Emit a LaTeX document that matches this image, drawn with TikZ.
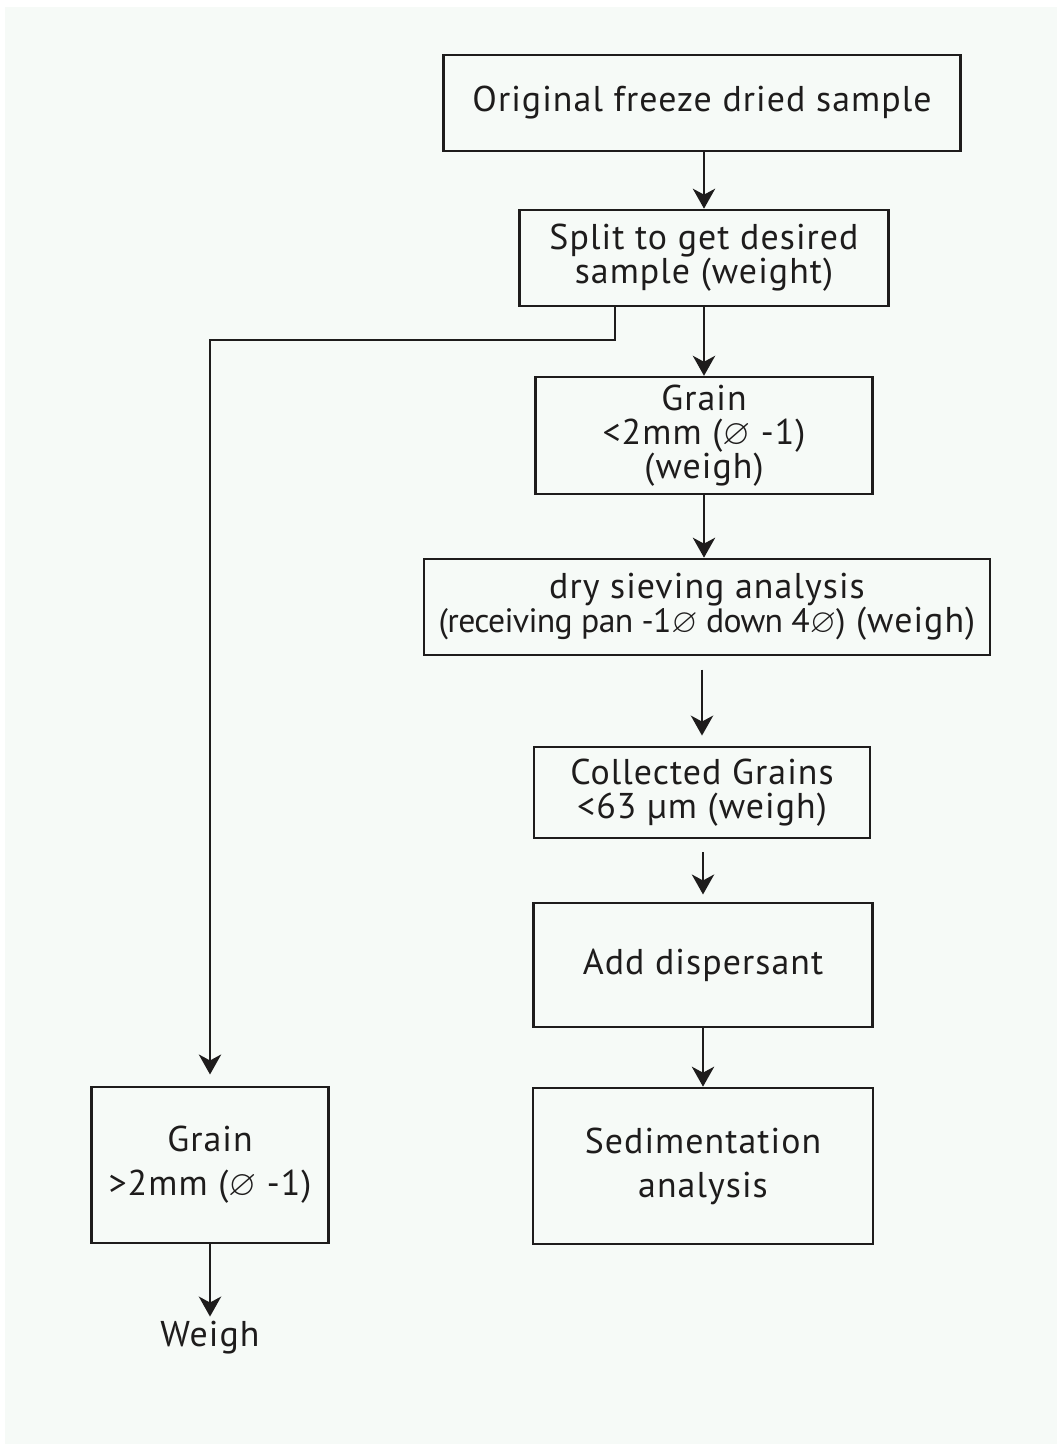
\documentclass[tikz,border=0pt]{standalone}
\usepackage{amssymb}
\usepackage{fontspec}
\setmainfont{PT Sans}[LetterSpace=3]
\usetikzlibrary{arrows.meta, positioning}
\definecolor{paper}{RGB}{246,250,247}
\definecolor{ink}{RGB}{30,28,28}

\tikzset{
  stepbox/.style={draw=ink, line width=1.9pt, align=center, inner sep=0pt,
    text=ink, font=\fontsize{25.5}{24.2}\selectfont},
  tallbox/.style={stepbox, font=\fontsize{25.5}{31.3}\selectfont},
  flow/.style={draw=ink, line width=1.5pt,
    -{Stealth[length=0.5cm, width=0.56cm, inset=0.15cm]}},
}
\newcommand{\diam}{$\varnothing$}

\begin{document}
\begin{tikzpicture}
  % page
  \useasboundingbox (0,0) rectangle (26.425,-36.1);
  \fill[paper] (0.125,-0.175) rectangle (26.425,-36.1);

  % main column
  \node[stepbox, minimum width=12.925cm, minimum height=2.4cm] (orig) at (17.55,-2.575)
    {Original freeze dried sample};
  \node[stepbox, minimum width=9.225cm, minimum height=2.4cm] (split) at (17.6,-6.45)
    {Split to get desired\\ sample (weight)};
  \node[stepbox, minimum width=8.425cm, minimum height=2.925cm] (fine) at (17.6,-10.89)
    {Grain\\ <2mm (\diam\ -1)\\ (weigh)};
  \node[stepbox, minimum width=14.15cm, minimum height=2.4cm] (sieve) at (17.675,-15.175)
    {dry sieving analysis\\
     {\fontsize{24}{24.2}\selectfont\addfontfeature{LetterSpace=-2}(receiving pan -1\diam\ down 4\diam)} (weigh)};
  \node[stepbox, minimum width=8.4cm, minimum height=2.275cm] (silt) at (17.55,-19.81)
    {Collected Grains\\ <63 µm (weigh)};
  \node[stepbox, minimum width=8.475cm, minimum height=3.1cm] (disp) at (17.575,-24.125)
    {Add dispersant};
  \node[tallbox, minimum width=8.5cm, minimum height=3.9cm] (sedim) at (17.575,-29.15)
    {Sedimentation\\ analysis};

  % coarse branch
  \node[tallbox, minimum width=5.925cm, minimum height=3.9cm] (coarse) at (5.25,-29.125)
    {Grain\\ >2mm (\diam\ -1)};
  \node[text=ink, font=\fontsize{25.5}{24.2}\selectfont] (weigh) at (5.25,-33.45) {Weigh};
  \coordinate (bend) at (5.25,-8.5);

  % arrows
  \draw[flow] (orig.south -| split.north) -- (split);
  \draw[flow] (split) -- (fine);
  \draw[flow] (fine) -- (sieve.north -| fine);
  \draw[flow, shorten <=0.33cm, shorten >=0.25cm] (sieve.south -| silt.north) -- (silt);
  \draw[flow, shorten <=0.33cm, shorten >=0.18cm] (silt.south -| disp.north) -- (disp);
  \draw[flow] (disp) -- (sedim);
  \draw[flow, shorten >=0.28cm] ([xshift=-2.225cm]split.south) |- (bend) -- (coarse);
  \draw[flow] (coarse) -- (weigh);
\end{tikzpicture}
\end{document}
